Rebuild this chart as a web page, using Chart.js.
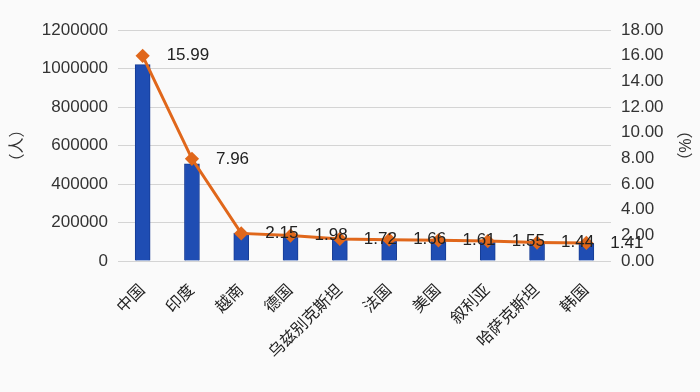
<!DOCTYPE html>
<html>
<head>
<meta charset="utf-8">
<script src="https://cdn.jsdelivr.net/npm/chart.js@4/dist/chart.umd.min.js"></script>
<style>
  html, body { margin: 0; padding: 0; background: #fafafa; }
  #wrap { width: 700px; height: 392px; }
</style>
</head>
<body>
<div id="wrap"><canvas id="chart"></canvas></div>
<script>
// chart data
const countries = ["中国", "印度", "越南", "德国", "乌兹别克斯坦", "法国", "美国", "叙利亚", "哈萨克斯坦", "韩国"];
const people = [1020000, 505000, 145000, 130000, 115000, 105000, 102000, 100000, 95000, 90000];
const share = [15.99, 7.96, 2.15, 1.98, 1.72, 1.66, 1.61, 1.55, 1.44, 1.41];
const leftTicks = [0, 200000, 400000, 600000, 800000, 1000000, 1200000];
const rightTicks = [0, 2, 4, 6, 8, 10, 12, 14, 16, 18];

const FONT = "'Liberation Sans', 'Noto Sans CJK SC', sans-serif";

// draws the percentage next to each line point
const pointLabels = {
    id: 'pointLabels',
    afterDatasetsDraw(chart) {
        const ctx = chart.ctx;
        const meta = chart.getDatasetMeta(1);
        ctx.save();
        ctx.font = "17px " + FONT;
        ctx.fillStyle = "#222";
        ctx.textAlign = "left";
        ctx.textBaseline = "middle";
        meta.data.forEach((pt, i) => {
            ctx.fillText(share[i].toFixed(2), pt.x + 24, pt.y);
        });
        ctx.restore();
    }
};

new Chart(document.getElementById('chart'), {
    data: {
        labels: countries,
        datasets: [
            {
                type: 'bar',
                data: people,
                yAxisID: 'y',
                backgroundColor: '#1f4db3',
                borderColor: '#163c94',
                borderWidth: 1,
                barThickness: 15,
                order: 1
            },
            {
                type: 'line',
                data: share,
                yAxisID: 'y1',
                borderColor: '#e0671b',
                backgroundColor: '#e0671b',
                borderWidth: 3,
                pointStyle: 'rectRot',
                pointRadius: 5,
                pointHoverRadius: 5,
                tension: 0,
                order: 0
            }
        ]
    },
    options: {
        responsive: true,
        maintainAspectRatio: false,
        animation: false,
        layout: { padding: { top: 30, bottom: 0, left: 0, right: 0 } },
        plugins: {
            legend: { display: false },
            tooltip: { enabled: false }
        },
        scales: {
            x: {
                grid: { display: false },
                border: { display: false },
                ticks: {
                    color: '#222',
                    font: { family: FONT, size: 16 },
                    minRotation: 45,
                    maxRotation: 45,
                    padding: 12
                },
                afterFit(axis) { axis.height = 131; }
            },
            y: {
                position: 'left',
                min: 0,
                max: 1200000,
                afterBuildTicks(axis) { axis.ticks = leftTicks.map(v => ({ value: v })); },
                ticks: {
                    color: '#333',
                    font: { family: FONT, size: 17 },
                    padding: 10,
                    callback: v => String(v)
                },
                grid: { color: '#d4d4d4', drawTicks: false },
                border: { display: false },
                title: {
                    display: true,
                    text: '（人）',
                    color: '#333',
                    font: { family: FONT, size: 16 },
                    padding: { top: 8, bottom: 0 }
                },
                afterFit(axis) { axis.width = 118; }
            },
            y1: {
                position: 'right',
                min: 0,
                max: 18,
                afterBuildTicks(axis) { axis.ticks = rightTicks.map(v => ({ value: v })); },
                ticks: {
                    color: '#333',
                    font: { family: FONT, size: 17 },
                    padding: 10,
                    callback: v => v.toFixed(2)
                },
                grid: { display: false, drawTicks: false },
                border: { display: false },
                title: {
                    display: true,
                    text: '（%）',
                    color: '#333',
                    font: { family: FONT, size: 16 },
                    padding: { top: 7, bottom: 0 }
                },
                afterFit(axis) { axis.width = 89; }
            }
        }
    },
    plugins: [pointLabels]
});
</script>
</body>
</html>
